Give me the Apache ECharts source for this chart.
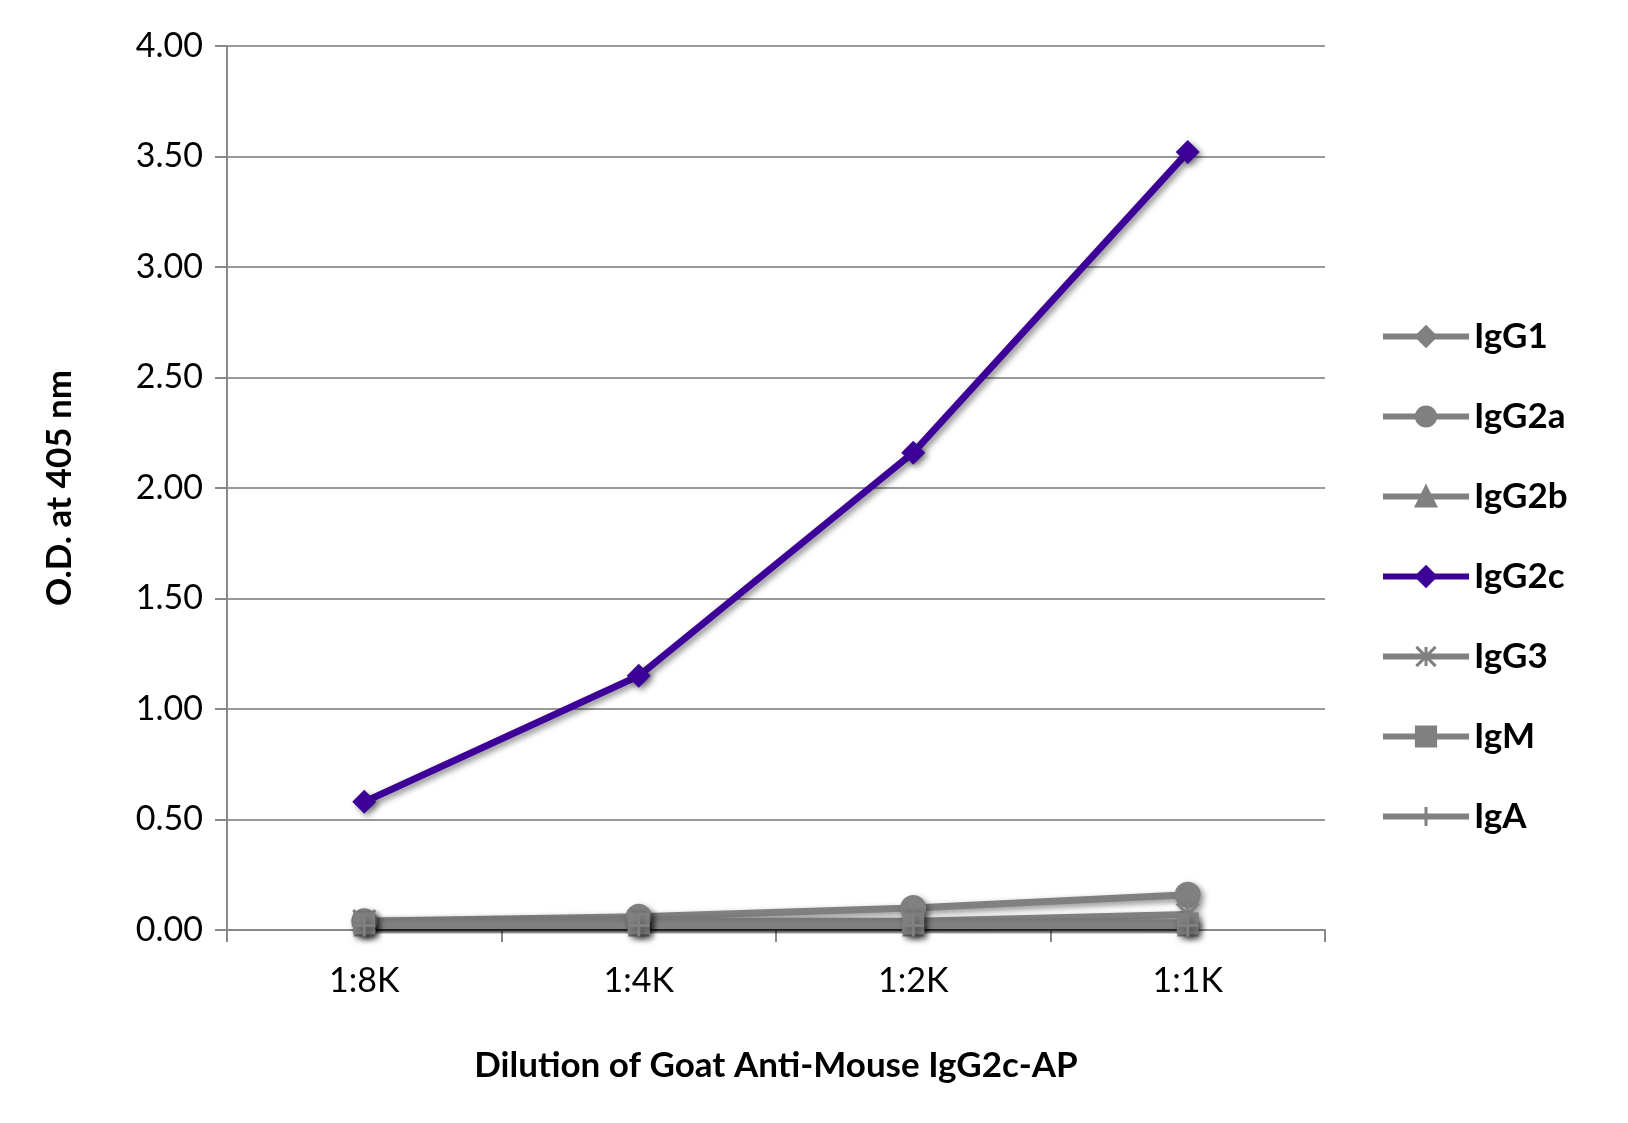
<!DOCTYPE html>
<html><head><meta charset="utf-8">
<script src="https://cdn.jsdelivr.net/npm/echarts@6/dist/echarts.min.js"></script>
<style>html,body{margin:0;padding:0;background:#fff}#c{width:1628px;height:1123px}</style>
</head><body><div id="c"></div>
<script>
const categories = ['1:8K','1:4K','1:2K','1:1K'];
const IgG1 = [0.03,0.03,0.03,0.03];
const IgG2a = [0.04,0.06,0.10,0.16];
const IgG2b = [0.02,0.02,0.02,0.02];
const IgG2c = [0.58,1.15,2.16,3.52];
const IgG3 = [0.04,0.04,0.04,0.07];
const IgM = [0.03,0.03,0.03,0.03];
const IgA = [0.02,0.02,0.02,0.02];

const gray = '#808080';
const defs = [
  ['IgG1', IgG1, 'diamond', gray],
  ['IgG2a', IgG2a, 'circle', gray],
  ['IgG2b', IgG2b, 'triangle', gray],
  ['IgG2c', IgG2c, 'diamond', '#3d0099'],
  ['IgG3', IgG3, 'path://M0,0L10,10M10,0L0,10M5,0L5,10', gray],
  ['IgM', IgM, 'rect', gray],
  ['IgA', IgA, 'path://M0,5L10,5M5,0L5,10', gray]
];
const font = 'Lato, "Open Sans", sans-serif';
const series = defs.map(([n,d,s,c]) => {
  const isPath = s.startsWith('path');
  return {
    name: n, type: 'line', data: d, symbol: s, symbolSize: n==='IgG2a'?26:(n==='IgG2c'?24:22),
    lineStyle: {color: c, width: 7, shadowColor: 'rgba(0,0,0,0.45)', shadowBlur: 6, shadowOffsetX: 3, shadowOffsetY: 3},
    itemStyle: {color: c, borderColor: c, borderWidth: isPath?3:0, shadowColor: 'rgba(0,0,0,0.45)', shadowBlur: 6, shadowOffsetX: 3, shadowOffsetY: 3},
    z: n==='IgG2c'?10:2
  };
});
const chart = echarts.init(document.getElementById('c'));
chart.setOption({
  animation: false,
  grid: {left: 227, right: 303, top: 46, bottom: 193},
  legend: {
    orient: 'vertical', left: 1375, top: 314, itemGap: 45, itemWidth: 86, itemHeight: 24,
    lineStyle: {width: 6},
    itemStyle: {borderWidth: 3},
    textStyle: {fontFamily: font, fontSize: 35, fontWeight: 'bold', color: '#000'},
    data: defs.map(d => d[0])
  },
  xAxis: {
    type: 'category', data: categories, boundaryGap: true,
    axisLine: {lineStyle: {color: '#888', width: 2}},
    axisTick: {show: true, length: 12, lineStyle: {color: '#888', width: 2}},
    axisLabel: {fontFamily: font, fontSize: 34, color: '#000', margin: 34},
    name: 'Dilution of Goat Anti-Mouse IgG2c-AP', nameLocation: 'middle', nameGap: 118,
    nameTextStyle: {fontFamily: font, fontSize: 35, fontWeight: 'bold', color: '#000'}
  },
  yAxis: {
    type: 'value', min: 0, max: 4, interval: 0.5,
    axisLine: {show: true, lineStyle: {color: '#888', width: 2}},
    axisTick: {show: true, length: 12, lineStyle: {color: '#888', width: 2}},
    splitLine: {lineStyle: {color: '#999', width: 2}},
    axisLabel: {fontFamily: font, fontSize: 34, color: '#000', margin: 24, formatter: v => v.toFixed(2)},
    name: 'O.D. at 405 nm', nameLocation: 'middle', nameGap: 150,
    nameTextStyle: {fontFamily: font, fontSize: 35, fontWeight: 'bold', color: '#000'}
  },
  series: series
});
</script></body></html>
